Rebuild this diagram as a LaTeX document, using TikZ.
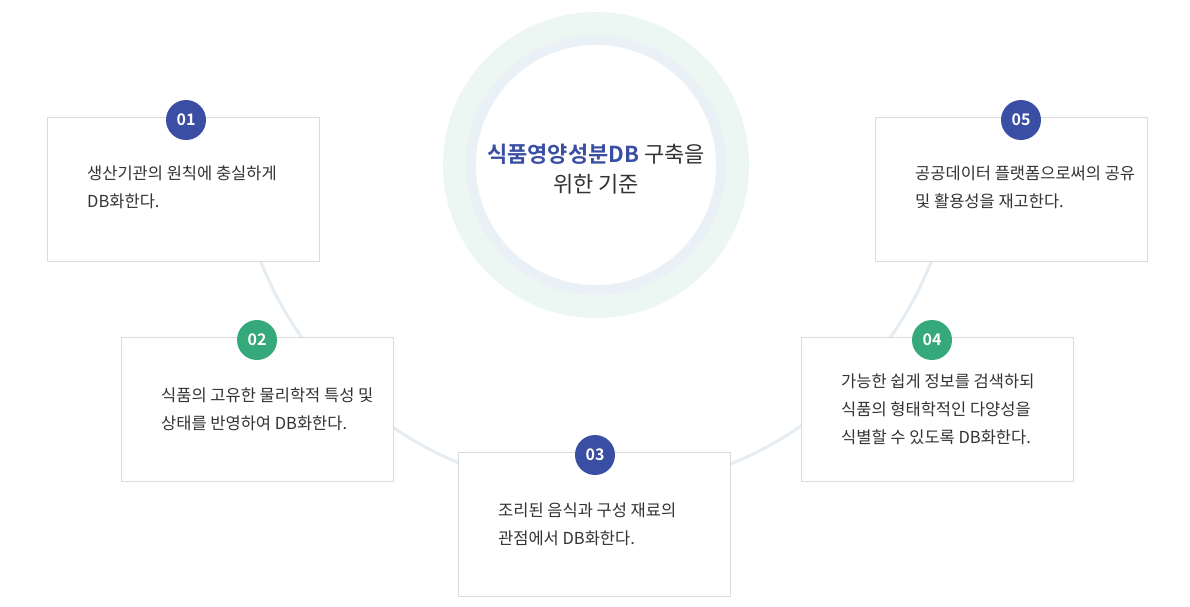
\documentclass[tikz,border=0pt]{standalone}
\usepackage{fontspec}
\newfontfamily\kr{Noto Sans CJK KR}
\newfontfamily\krb{Noto Sans CJK KR Bold}
\definecolor{bl}{HTML}{3A4FA3}
\definecolor{gr}{HTML}{36A97A}
\definecolor{tx}{HTML}{333333}
\begin{document}
\begin{tikzpicture}[x=1pt,y=-1pt,
  card/.style={draw=black!14,fill=white,line width=0.8pt,minimum width=272pt,minimum height=144pt,anchor=north west},
  badge/.style={circle,fill=#1,minimum size=40pt,inner sep=0pt,text=white,font=\krb\fontsize{16}{16}\selectfont},
  body/.style={anchor=north west,align=left,text=tx,font=\kr\fontsize{16.5}{28}\selectfont,inner sep=0pt}]
\useasboundingbox (0,0) rectangle (1190,606);
\fill[white] (0,0) rectangle (1190,606);
\begin{scope}
\clip (0,262) rectangle (1190,606);
\draw[color={rgb,255:red,230;green,237;blue,242},line width=3pt] (596,130) circle (360);
\end{scope}
% center ring
\fill[color={rgb,255:red,236;green,246;blue,242}] (596,165) circle (153);
\fill[color={rgb,255:red,234;green,241;blue,246}] (596,165) circle (130);
\fill[white] (596,165) circle (120);
\node[font=\kr\fontsize{22}{30}\selectfont,text=tx,align=center] (c) at (596,169)
 {{\krb\color{bl}식품영양성분DB} 구축을\\위한 기준};
% cards
\node[card] (b1) at (47,117) {};
\node[card] (b2) at (121,337) {};
\node[card] (b3) at (458,452) {};
\node[card] (b4) at (801,337) {};
\node[card] (b5) at (875,117) {};
\node[badge=bl] (n1) at (186,120) {01};
\node[badge=gr] (n2) at (257,340) {02};
\node[badge=bl] (n3) at (595,455) {03};
\node[badge=gr] (n4) at (932,340) {04};
\node[badge=bl] (n5) at (1021,120) {05};
\node[body] (t1) at (87,166) {생산기관의 원칙에 충실하게\\DB화한다.};
\node[body] (t2) at (161,388) {식품의 고유한 물리학적 특성 및\\상태를 반영하여 DB화한다.};
\node[body] (t3) at (498,503) {조리된 음식과 구성 재료의\\관점에서 DB화한다.};
\node[body] (t4) at (841,374) {가능한 쉽게 정보를 검색하되\\식품의 형태학적인 다양성을\\식별할 수 있도록 DB화한다.};
\node[body] (t5) at (915,166) {공공데이터 플랫폼으로써의 공유\\및 활용성을 재고한다.};
\end{tikzpicture}
\end{document}
